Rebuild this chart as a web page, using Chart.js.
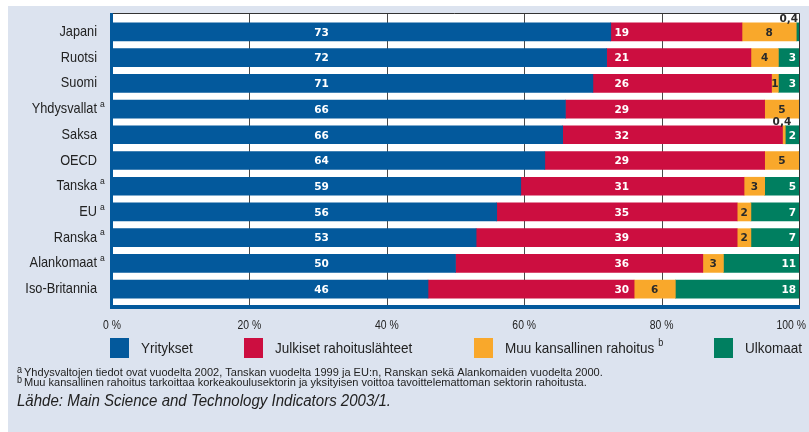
<!DOCTYPE html>
<html><head><meta charset="utf-8">
<script src="https://cdn.jsdelivr.net/npm/chart.js@4/dist/chart.umd.min.js"></script>
<style>html,body{margin:0;padding:0;background:#fff}</style>
</head><body>
<canvas id="c" width="809" height="432" style="display:block;width:809px;height:432px"></canvas>
<script>
// ---- data ----
const categories = ['Japani','Ruotsi','Suomi','Yhdysvallat','Saksa','OECD','Tanska','EU','Ranska','Alankomaat','Iso-Britannia'];
const categoryNotes = ['','','','a','','','a','a','a','a',''];
const yritykset = [72.6, 72, 70, 66, 65.6, 63, 59.5, 56, 53, 50, 46];
const julkiset  = [19.1, 21, 26, 29, 32, 32, 32.5, 35, 38, 36, 30];
const muuKans   = [7.9, 4, 1, 5, 0.4, 5, 3, 2, 2, 3, 6];
const ulkomaat  = [0.4, 3, 3, 0, 2, 0, 5, 7, 7, 11, 18];
const yritText  = ['73','72','71','66','66','64','59','56','53','50','46'];
const julkText  = ['19','21','26','29','32','29','31','35','39','36','30'];
const muuText   = ['8','4','1','5','0,4','5','3','2','2','3','6'];
const ulkText   = ['0,4','3','3','','2','','5','7','7','11','18'];
const xTicks = [0, 20, 40, 60, 80, 100];
const seriesNames = ['Yritykset','Julkiset rahoituslähteet','Muu kansallinen rahoitus','Ulkomaat'];
const seriesNotes = ['','','b',''];
const footnotes = [
  ['a','Yhdysvaltojen tiedot ovat vuodelta 2002, Tanskan vuodelta 1999 ja EU:n, Ranskan sekä Alankomaiden vuodelta 2000.'],
  ['b','Muu kansallinen rahoitus tarkoittaa korkeakoulusektorin ja yksityisen voittoa tavoittelemattoman sektorin rahoitusta.']
];
const sourceText = 'Lähde: Main Science and Technology Indicators 2003/1.';

// ---- style ----
const COLORS = ['#03599c','#cc0e40','#f9a82b','#007f60'];
const TEXTC = ['#ffffff','#ffffff','#2a2a2a','#ffffff'];
const BG = '#dce3ef';
const SANS = '"Liberation Sans",Arial,sans-serif';
const BOLDF = 'bold 10.5px "DejaVu Sans",sans-serif';

const texts = [yritText, julkText, muuText, ulkText];
const values = [yritykset, julkiset, muuKans, ulkomaat];

// draw horizontally condensed text
function ctext(ctx, txt, x, y, font, sx, align) {
  ctx.save();
  ctx.font = font; ctx.textAlign = align; ctx.textBaseline = 'middle';
  ctx.translate(x, y); ctx.scale(sx, 1);
  ctx.fillText(txt, 0, 0);
  const w = ctx.measureText(txt).width * sx;
  ctx.restore();
  return w;
}

const framePlugin = {
  id: 'frame',
  beforeDraw(chart) {
    const ctx = chart.ctx, ca = chart.chartArea, xs = chart.scales.x;
    ctx.save();
    ctx.fillStyle = '#ffffff'; ctx.fillRect(0,0,chart.width,chart.height);
    ctx.fillStyle = BG; ctx.fillRect(8,6,chart.width-8,chart.height-6);
    const top = ca.top - 6, bot = ca.bottom + 3;
    ctx.fillStyle = '#ffffff'; ctx.fillRect(ca.left-2, top, ca.right-ca.left+2, bot-top);
    ctx.strokeStyle = '#4a4a4a'; ctx.lineWidth = 1;
    xTicks.slice(1,-1).forEach(v => {
      const px = Math.round(xs.getPixelForValue(v)) + 0.5;
      ctx.beginPath(); ctx.moveTo(px, top); ctx.lineTo(px, bot); ctx.stroke();
    });
    ctx.strokeStyle = '#333';
    ctx.beginPath(); ctx.moveTo(ca.left-2, top+0.5); ctx.lineTo(ca.right+0.5, top+0.5); ctx.lineTo(ca.right+0.5, bot); ctx.stroke();
    ctx.fillStyle = COLORS[0];
    ctx.fillRect(ca.left-2, top, 3, bot-top+4);
    ctx.fillRect(ca.left-2, bot, ca.right-ca.left+3, 4);
    ctx.restore();
  },
  afterDatasetsDraw(chart) {
    const ctx = chart.ctx, ca = chart.chartArea, xs = chart.scales.x;
    ctx.save();
    ctx.font = BOLDF;
    ctx.textBaseline = 'middle';
    chart.data.datasets.forEach((ds, di) => {
      const meta = chart.getDatasetMeta(di);
      meta.data.forEach((bar, i) => {
        const txt = texts[di][i]; if (!txt) return;
        const p = bar.getProps(['x','y','base','height'], true);
        const l = Math.max(Math.min(p.x, p.base), ca.left);
        const r = Math.min(Math.max(p.x, p.base), ca.right);
        const w = ctx.measureText(txt).width;
        if (values[di][i] < 1) {
          let cx = (l + r) / 2 - 2;
          if (cx + w/2 > ca.right - 1) cx = ca.right - 1 - w/2;
          ctx.fillStyle = '#2a2a2a'; ctx.textAlign = 'center';
          ctx.fillText(txt, cx, p.y - p.height/2 - 4);
          return;
        }
        ctx.fillStyle = TEXTC[di];
        if (di === 0) { ctx.textAlign = 'center'; ctx.fillText(txt, xs.getPixelForValue(30.5), p.y + 1); }
        else if (di === 1) { ctx.textAlign = 'center'; ctx.fillText(txt, xs.getPixelForValue(74.2), p.y + 1); }
        else if (di === 2) { ctx.textAlign = 'center'; ctx.fillText(txt, (l + r) / 2, p.y + 1); }
        else { ctx.textAlign = 'right'; ctx.fillText(txt, r - 3, p.y + 1); }
      });
    });
    ctx.restore();
  },
  afterDraw(chart) {
    const ctx = chart.ctx, ca = chart.chartArea, xs = chart.scales.x, ys = chart.scales.y;
    ctx.save();
    ctx.fillStyle = '#222';
    categories.forEach((c, i) => {
      const py = ys.getPixelForValue(i);
      ctext(ctx, c, ca.left - 15, py, '14.5px ' + SANS, 0.88, 'right');
      if (categoryNotes[i]) ctext(ctx, categoryNotes[i], ca.left - 12, py - 5, '9.5px ' + SANS, 0.9, 'left');
    });
    xTicks.forEach(v => {
      const t = v + ' %';
      let px = xs.getPixelForValue(v);
      ctx.font = '13px ' + SANS;
      const w = ctx.measureText(t).width * 0.8;
      if (px + w/2 > chart.width - 3) px = chart.width - 3 - w/2;
      ctext(ctx, t, px, ca.bottom + 23, '13px ' + SANS, 0.8, 'center');
    });
    const lx = [110, 244, 474, 714];
    seriesNames.forEach((n, i) => {
      ctx.fillStyle = COLORS[i]; ctx.fillRect(lx[i], 338, 19, 20);
      ctx.fillStyle = '#222';
      const w = ctext(ctx, n, lx[i] + 31, 349, '15px ' + SANS, 0.9, 'left');
      if (seriesNotes[i]) ctext(ctx, seriesNotes[i], lx[i] + 31 + w + 4, 343, '10px ' + SANS, 0.9, 'left');
    });
    footnotes.forEach((f, i) => {
      const y = 373 + i * 10;
      ctext(ctx, f[0], 17, y - 3, '10px ' + SANS, 0.9, 'left');
      ctext(ctx, f[1], 24, y, '11.5px ' + SANS, 0.96, 'left');
    });
    ctext(ctx, sourceText, 17, 402, 'italic 16px ' + SANS, 0.94, 'left');
    ctx.restore();
  }
};

new Chart(document.getElementById('c'), {
  type: 'bar',
  data: {
    labels: categories,
    datasets: seriesNames.map((n, i) => ({
      label: n, data: values[i], backgroundColor: COLORS[i],
      borderWidth: 0, barThickness: 18
    }))
  },
  options: {
    indexAxis: 'y', responsive: false, animation: false,
    layout: { padding: { left: 112, right: 10, top: 19, bottom: 130 } },
    plugins: { legend: { display: false }, tooltip: { enabled: false } },
    scales: {
      x: { display: false, stacked: true, min: 0, max: 100 },
      y: { display: false, stacked: true }
    }
  },
  plugins: [framePlugin]
});
</script>
</body></html>
